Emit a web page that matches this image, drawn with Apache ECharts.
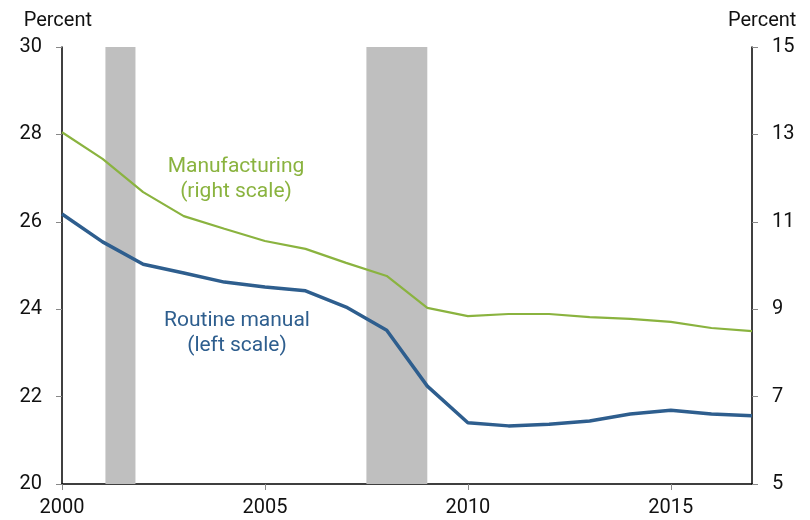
<!DOCTYPE html>
<html>
<head>
<meta charset="utf-8">
<script src="https://cdn.jsdelivr.net/npm/echarts@6/dist/echarts.min.js"></script>
<style>
    html, body { margin: 0; padding: 0; background: #fff; }
    #chart { width: 810px; height: 520px; }
</style>
</head>
<body>
<div id="chart"></div>
<script>
    // 年份
    var years = [2000, 2001, 2002, 2003, 2004, 2005, 2006, 2007, 2008,
                 2009, 2010, 2011, 2012, 2013, 2014, 2015, 2016, 2017];
    // Routine manual, left scale
    var routineManual = [26.18, 25.54, 25.03, 24.83, 24.62, 24.51, 24.42, 24.05, 23.52,
                         22.24, 21.40, 21.33, 21.37, 21.44, 21.60, 21.69, 21.60, 21.56];
    // Manufacturing, right scale
    var manufacturing = [13.05, 12.44, 11.68, 11.13, 10.84, 10.56, 10.38, 10.06, 9.76,
                         9.03, 8.84, 8.89, 8.89, 8.82, 8.78, 8.71, 8.57, 8.50];
    // recessions
    var recessions = [[2001.07, 2001.81], [2007.5, 2009.0]];

    var font = 'Roboto, "Noto Sans", sans-serif';
    var blue = '#2e5e8e';
    var green = '#8ab33f';

    function pairs(vals) {
        return years.map(function (y, i) { return [y, vals[i]]; });
    }

    var chart = echarts.init(document.getElementById('chart'));
    var option = {
        animation: false,
        grid: { left: 62, right: 58, top: 47, bottom: 36 },
        xAxis: {
            type: 'value',
            min: 2000,
            max: 2017,
            interval: 5,
            axisLine: { show: true, lineStyle: { color: '#000', width: 1.5 } },
            axisTick: { show: true, length: 6, lineStyle: { color: '#888' } },
            axisLabel: {
                color: '#111', fontSize: 20, fontFamily: font, margin: 14,
                showMaxLabel: false,
                formatter: function (v) { return String(v); }
            },
            splitLine: { show: false }
        },
        yAxis: [
            {
                type: 'value',
                position: 'left',
                min: 20,
                max: 30,
                interval: 2,
                name: 'Percent',
                nameLocation: 'end',
                nameGap: 16,
                nameTextStyle: { color: '#111', fontSize: 20, fontFamily: font, align: 'right', padding: [0, -30, 0, 0] },
                axisLine: { show: true, lineStyle: { color: '#000', width: 1.5 } },
                axisTick: { show: true, length: 6, lineStyle: { color: '#888' } },
                axisLabel: { color: '#111', fontSize: 20, fontFamily: font, margin: 20 },
                splitLine: { show: false }
            },
            {
                type: 'value',
                position: 'right',
                min: 5,
                max: 15,
                interval: 2,
                name: 'Percent',
                nameLocation: 'end',
                nameGap: 16,
                nameTextStyle: { color: '#111', fontSize: 20, fontFamily: font, align: 'left', padding: [0, 0, 0, -24] },
                axisLine: { show: true, lineStyle: { color: '#000', width: 1.5 } },
                axisTick: { show: true, length: 6, lineStyle: { color: '#888' } },
                axisLabel: { color: '#111', fontSize: 20, fontFamily: font, margin: 20 },
                splitLine: { show: false }
            }
        ],
        series: [
            {
                name: 'Recessions',
                type: 'line',
                data: [],
                markArea: {
                    silent: true,
                    itemStyle: { color: '#bfbfbf' },
                    data: recessions.map(function (r) {
                        return [{ xAxis: r[0] }, { xAxis: r[1] }];
                    })
                }
            },
            {
                name: 'Manufacturing',
                type: 'line',
                yAxisIndex: 1,
                showSymbol: false,
                lineStyle: { color: green, width: 2.2 },
                data: pairs(manufacturing),
                z: 3
            },
            {
                name: 'Routine manual',
                type: 'line',
                yAxisIndex: 0,
                showSymbol: false,
                lineStyle: { color: blue, width: 3.5 },
                data: pairs(routineManual),
                z: 4
            }
        ],
        graphic: [
            {
                type: 'text',
                style: { x: 236, y: 179, text: 'Manufacturing\n(right scale)', fill: green,
                         font: '21px ' + font, align: 'center', verticalAlign: 'middle', lineHeight: 25 }
            },
            {
                type: 'text',
                style: { x: 237, y: 333, text: 'Routine manual\n(left scale)', fill: blue,
                         font: '21px ' + font, align: 'center', verticalAlign: 'middle', lineHeight: 25 }
            }
        ]
    };
    chart.setOption(option);
</script>
</body>
</html>
